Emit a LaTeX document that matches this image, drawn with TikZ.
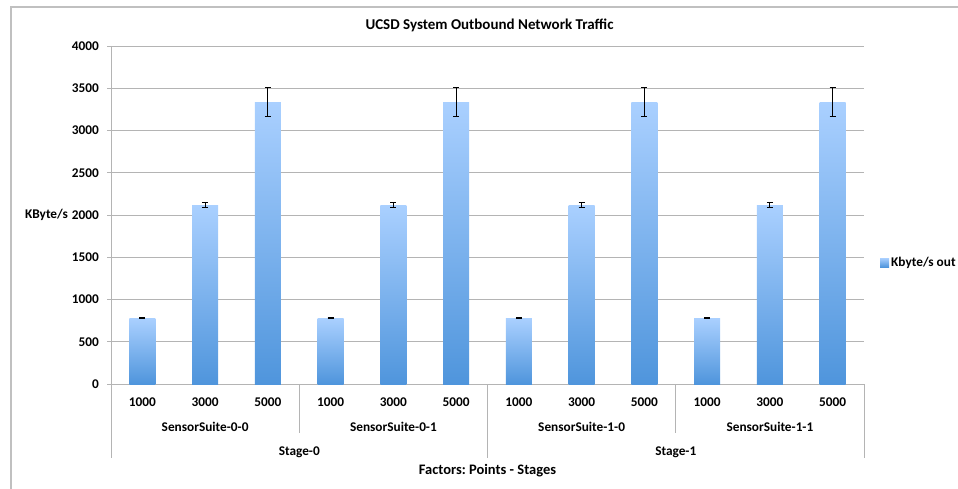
\documentclass[tikz,border=0pt]{standalone}
\usepackage{fontspec}
\setmainfont{Carlito}
\usetikzlibrary{calc,positioning}
\frenchspacing

\definecolor{bartop}{HTML}{AAD0FF}
\definecolor{barbot}{HTML}{4F95DC}
\definecolor{gridgray}{HTML}{B4B4B4}
\definecolor{framegray}{HTML}{C0C0C0}

\tikzset{
    barfill/.style={top color=bartop, bottom color=barbot},
    gridline/.style={gridgray, line width=0.9pt},
    errbar/.style={black, line width=0.9pt},
    lbl/.style={font=\bfseries\fontsize{13.3}{15}\selectfont, inner sep=0pt},
}

\begin{document}
\begin{tikzpicture}[x=1pt, y=-1pt]

\useasboundingbox (0,0) rectangle (958,489);

% frame of the chart
\draw[framegray, line width=1.2pt] (11,495) -- (11,7) -- (965,7);

\node[lbl, font=\bfseries\fontsize{15}{17}\selectfont] (title) at (489.5,25) {UCSD System Outbound Network Traffic};

% grid and y ticks
\foreach \v in {0,500,...,4000} {
    \draw[gridline] (107,{384-\v*0.0845}) -- (864,{384-\v*0.0845});
    \node[lbl, anchor=east] (tick\v) at (99,{384-\v*0.0845}) {\v};
}
\draw[gridline] (111,46) -- (111,384);

\node[lbl, anchor=east] (ylabel) at (68,215) {KByte/s};

% bars
\foreach \g in {0,1,2,3} {
\foreach \k/\val/\err/\pts in {
0/780/10/1000,
1/2118/25/3000,
2/3337/175/5000
}
{
    \pgfmathsetmacro{\bx}{111+62.75*(3*\g+\k+0.5)}
    \pgfmathsetmacro{\btop}{384-\val*0.0845}
    \pgfmathsetmacro{\berr}{\err*0.0845}
    \shade[barfill] (\bx-13,384) rectangle (\bx+13,\btop);
    \draw[errbar] (\bx,\btop-\berr) -- (\bx,\btop+\berr);
    \draw[errbar] (\bx-3,\btop-\berr) -- (\bx+3,\btop-\berr);
    \draw[errbar] (\bx-3,\btop+\berr) -- (\bx+3,\btop+\berr);
    \node[lbl] (pts\g\k) at (\bx,402) {\pts};
}
}

% category axis
\foreach \x in {111,487.5,864} {
    \draw[gridline] (\x,384) -- (\x,458);
}
\foreach \x in {299.25,675.75} {
    \draw[gridline] (\x,384) -- (\x,433);
}

\node[lbl] (suite00) at (205.1,427) {SensorSuite-0-0};
\node[lbl] (suite01) at (393.4,427) {SensorSuite-0-1};
\node[lbl] (suite10) at (581.6,427) {SensorSuite-1-0};
\node[lbl] (suite11) at (769.9,427) {SensorSuite-1-1};

\node[lbl] (stage0) at (299.25,452) {Stage-0};
\node[lbl] (stage1) at (675.75,452) {Stage-1};

\node[lbl, font=\bfseries\fontsize{14.5}{16}\selectfont] (xlabel) at (487.5,471) {Factors: Points - Stages};

% legend
\shade[barfill] (880,258) rectangle (889,267);
\node[lbl, anchor=west] (legend) at (891,263) {Kbyte/s out};

\end{tikzpicture}
\end{document}
